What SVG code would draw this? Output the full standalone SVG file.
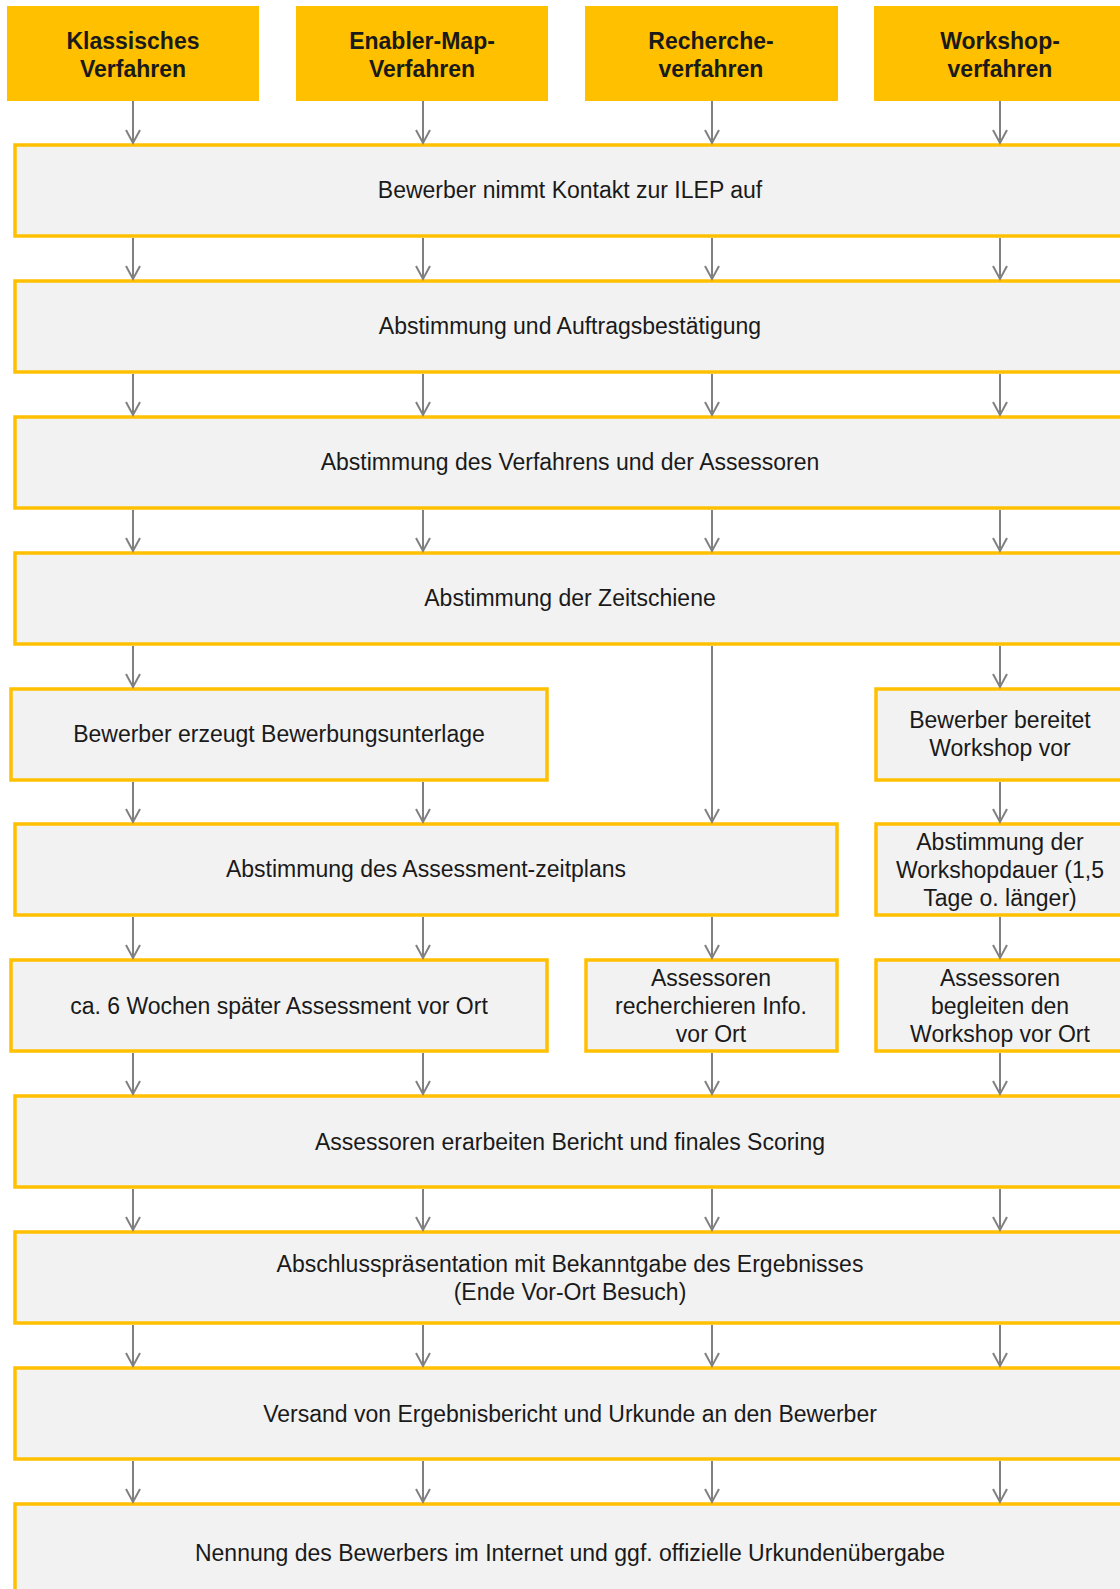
<svg xmlns="http://www.w3.org/2000/svg" width="1120" height="1589" viewBox="0 0 1120 1589">
<style>
.hd{fill:#FFC000;}
.bx{fill:#F2F2F2;stroke:#FFC000;stroke-width:3.5;}
.ht{font-family:"Liberation Sans",Arial,sans-serif;font-size:23px;font-weight:bold;fill:#1a1a1a;text-anchor:middle;}
.t{font-family:"Liberation Sans",Arial,sans-serif;font-size:23px;fill:#1a1a1a;text-anchor:middle;}
.c line{stroke:#808080;stroke-width:2;marker-end:url(#arr);}
</style>
<defs>
<marker id="arr" markerUnits="userSpaceOnUse" markerWidth="20" markerHeight="20" refX="14" refY="8" orient="auto" viewBox="0 0 20 16">
<path d="M1,1 L14,8 L1,15" fill="none" stroke="#808080" stroke-width="2"/>
</marker>
</defs>
<rect width="1120" height="1589" fill="#FFFFFF"/>

<g id="h1"><rect class="hd" x="7" y="6" width="252" height="95"/><text class="ht" x="133" y="49">Klassisches</text><text class="ht" x="133" y="77">Verfahren</text></g>
<g id="h2"><rect class="hd" x="296" y="6" width="252" height="95"/><text class="ht" x="422" y="49">Enabler-Map-</text><text class="ht" x="422" y="77">Verfahren</text></g>
<g id="h3"><rect class="hd" x="585" y="6" width="253" height="95"/><text class="ht" x="711" y="49">Recherche-</text><text class="ht" x="711" y="77">verfahren</text></g>
<g id="h4"><rect class="hd" x="874" y="6" width="260" height="95"/><text class="ht" x="1000" y="49">Workshop-</text><text class="ht" x="1000" y="77">verfahren</text></g>

<g id="r1"><rect class="bx" x="15" y="145" width="1115" height="91"/><text class="t" x="570" y="198">Bewerber nimmt Kontakt zur ILEP auf</text></g>
<g id="r2"><rect class="bx" x="15" y="281" width="1115" height="91"/><text class="t" x="570" y="334">Abstimmung und Auftragsbestätigung</text></g>
<g id="r3"><rect class="bx" x="15" y="417" width="1115" height="91"/><text class="t" x="570" y="470">Abstimmung des Verfahrens und der Assessoren</text></g>
<g id="r4"><rect class="bx" x="15" y="553" width="1115" height="91"/><text class="t" x="570" y="606">Abstimmung der Zeitschiene</text></g>

<g id="r5a"><rect class="bx" x="11" y="689" width="536" height="91"/><text class="t" x="279" y="742">Bewerber erzeugt Bewerbungsunterlage</text></g>
<g id="r5b"><rect class="bx" x="876" y="689" width="254" height="91"/><text class="t" x="1000" y="728">Bewerber bereitet</text><text class="t" x="1000" y="756">Workshop vor</text></g>

<g id="r6a"><rect class="bx" x="15" y="824" width="822" height="91"/><text class="t" x="426" y="877">Abstimmung des Assessment-zeitplans</text></g>
<g id="r6b"><rect class="bx" x="876" y="824" width="254" height="91"/><text class="t" x="1000" y="850">Abstimmung der</text><text class="t" x="1000" y="878">Workshopdauer (1,5</text><text class="t" x="1000" y="906">Tage o. länger)</text></g>

<g id="r7a"><rect class="bx" x="11" y="960" width="536" height="91"/><text class="t" x="279" y="1014">ca. 6 Wochen später Assessment vor Ort</text></g>
<g id="r7b"><rect class="bx" x="586" y="960" width="251" height="91"/><text class="t" x="711" y="986">Assessoren</text><text class="t" x="711" y="1014">recherchieren Info.</text><text class="t" x="711" y="1042">vor Ort</text></g>
<g id="r7c"><rect class="bx" x="876" y="960" width="254" height="91"/><text class="t" x="1000" y="986">Assessoren</text><text class="t" x="1000" y="1014">begleiten den</text><text class="t" x="1000" y="1042">Workshop vor Ort</text></g>

<g id="r8"><rect class="bx" x="15" y="1096" width="1115" height="91"/><text class="t" x="570" y="1150">Assessoren erarbeiten Bericht und finales Scoring</text></g>
<g id="r9"><rect class="bx" x="15" y="1232" width="1115" height="91"/><text class="t" x="570" y="1272">Abschlusspräsentation mit Bekanntgabe des Ergebnisses</text><text class="t" x="570" y="1300">(Ende Vor-Ort Besuch)</text></g>
<g id="r10"><rect class="bx" x="15" y="1368" width="1115" height="91"/><text class="t" x="570" y="1422">Versand von Ergebnisbericht und Urkunde an den Bewerber</text></g>
<g id="r11"><rect class="bx" x="15" y="1504" width="1115" height="100"/><text class="t" x="570" y="1561">Nennung des Bewerbers im Internet und ggf. offizielle Urkundenübergabe</text></g>

<g id="connectors" class="c">
<line x1="133" y1="101" x2="133" y2="143"/><line x1="423" y1="101" x2="423" y2="143"/><line x1="712" y1="101" x2="712" y2="143"/><line x1="1000" y1="101" x2="1000" y2="143"/>
<line x1="133" y1="238" x2="133" y2="279"/><line x1="423" y1="238" x2="423" y2="279"/><line x1="712" y1="238" x2="712" y2="279"/><line x1="1000" y1="238" x2="1000" y2="279"/>
<line x1="133" y1="374" x2="133" y2="415"/><line x1="423" y1="374" x2="423" y2="415"/><line x1="712" y1="374" x2="712" y2="415"/><line x1="1000" y1="374" x2="1000" y2="415"/>
<line x1="133" y1="510" x2="133" y2="551"/><line x1="423" y1="510" x2="423" y2="551"/><line x1="712" y1="510" x2="712" y2="551"/><line x1="1000" y1="510" x2="1000" y2="551"/>
<line x1="133" y1="646" x2="133" y2="687"/><line x1="712" y1="646" x2="712" y2="822"/><line x1="1000" y1="646" x2="1000" y2="687"/>
<line x1="133" y1="782" x2="133" y2="822"/><line x1="423" y1="782" x2="423" y2="822"/><line x1="1000" y1="782" x2="1000" y2="822"/>
<line x1="133" y1="917" x2="133" y2="958"/><line x1="423" y1="917" x2="423" y2="958"/><line x1="712" y1="917" x2="712" y2="958"/><line x1="1000" y1="917" x2="1000" y2="958"/>
<line x1="133" y1="1053" x2="133" y2="1094"/><line x1="423" y1="1053" x2="423" y2="1094"/><line x1="712" y1="1053" x2="712" y2="1094"/><line x1="1000" y1="1053" x2="1000" y2="1094"/>
<line x1="133" y1="1189" x2="133" y2="1230"/><line x1="423" y1="1189" x2="423" y2="1230"/><line x1="712" y1="1189" x2="712" y2="1230"/><line x1="1000" y1="1189" x2="1000" y2="1230"/>
<line x1="133" y1="1325" x2="133" y2="1366"/><line x1="423" y1="1325" x2="423" y2="1366"/><line x1="712" y1="1325" x2="712" y2="1366"/><line x1="1000" y1="1325" x2="1000" y2="1366"/>
<line x1="133" y1="1461" x2="133" y2="1502"/><line x1="423" y1="1461" x2="423" y2="1502"/><line x1="712" y1="1461" x2="712" y2="1502"/><line x1="1000" y1="1461" x2="1000" y2="1502"/>
</g>
</svg>
